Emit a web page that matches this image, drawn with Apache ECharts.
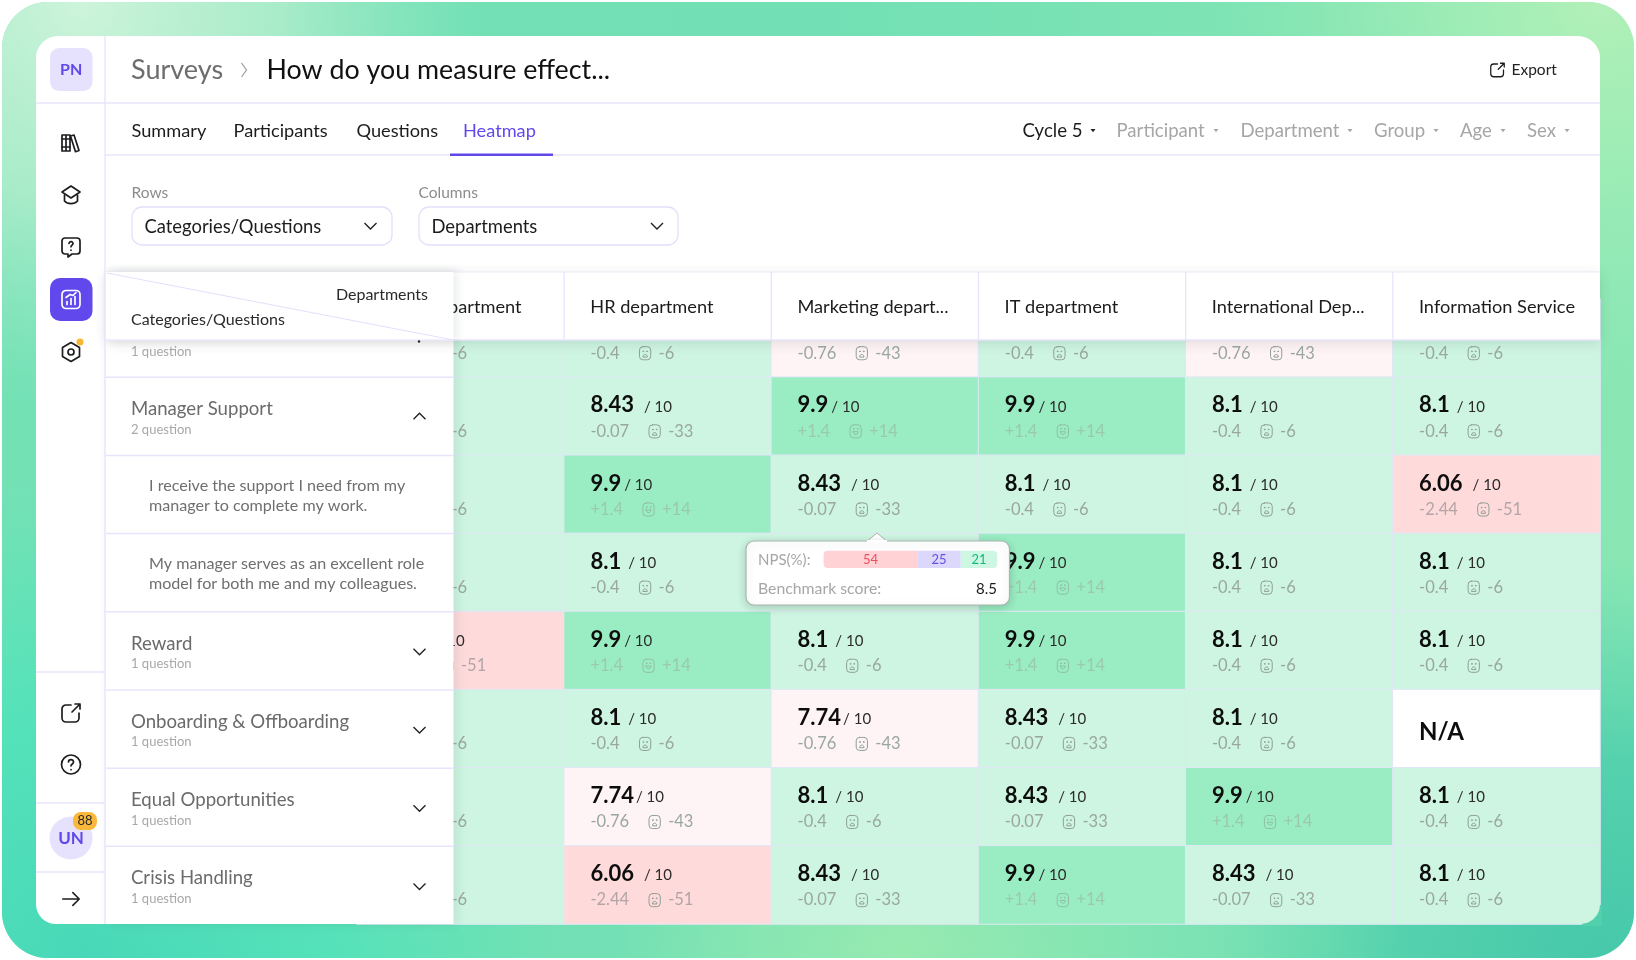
<!DOCTYPE html>
<html><head><meta charset="utf-8">
<style>html,body{margin:0;padding:0;background:#fff}#c{width:1636px;height:960px}</style>
<script src="https://cdn.jsdelivr.net/npm/echarts@6/dist/echarts.min.js"></script></head>
<body><div id="c"></div>
<script>
const FONT = 'Lato';
const columns = ['Sales department','HR department','Marketing depart...','IT department','International Dep...','Information Service'];
const rowTitles = ['','Manager Support','I receive the support I need from my\nmanager to complete my work.','My manager serves as an excellent role\nmodel for both me and my colleagues.','Reward','Onboarding & Offboarding','Equal Opportunities','Crisis Handling'];
const rowSubs = ['1 question','2 question','','','1 question','1 question','1 question','1 question'];
const rowChevrons = ['dot','up','','','down','down','down','down'];
// score per row, per column; null = N/A
const scores0 = [8.1,8.1,7.74,8.1,7.74,8.1];
const scores1 = [8.1,8.43,9.9,9.9,8.1,8.1];
const scores2 = [8.1,9.9,8.43,8.1,8.1,6.06];
const scores3 = [8.1,8.1,8.1,9.9,8.1,8.1];
const scores4 = [6.06,9.9,8.1,9.9,8.1,8.1];
const scores5 = [8.1,8.1,7.74,8.43,8.1,null];
const scores6 = [8.1,7.74,8.1,8.43,9.9,8.1];
const scores7 = [8.1,6.06,8.43,9.9,8.43,8.1];
const scoreRows = [scores0,scores1,scores2,scores3,scores4,scores5,scores6,scores7];
const deltaLabels = {9.9:'+1.4',8.43:'-0.07',8.1:'-0.4',7.74:'-0.76',6.06:'-2.44'};
const npsLabels = {9.9:'+14',8.43:'-33',8.1:'-6',7.74:'-43',6.06:'-51'};
const npsNames = ['Detractors','Passives','Promoters'];
const npsValues = [54,25,21];
const npsColors = ['#ffd2d6','#dcd8fb','#cdf6e3'];
const npsText = ['#e9505f','#6350e6','#12b981'];
const benchmark = '8.5';

const G = {l:357,t:299,w:1243,h:625,panelL:105.5,panelR:453.5,headT:272,headB:340,rowH:78.19};
const LINE = '#e7e4fb';
const svg = (inner,vb) => 'data:image/svg+xml;charset=utf-8,'+encodeURIComponent(
  `<svg xmlns="http://www.w3.org/2000/svg" viewBox="0 0 ${vb||24} ${vb||24}" fill="none" stroke-linecap="round" stroke-linejoin="round">${inner}</svg>`);
const faceSad = svg(`<g stroke="#8f9f97" stroke-width="1.6"><rect x="3" y="1.5" width="18" height="21" rx="5.5"/><circle cx="9" cy="9" r=".6"/><circle cx="15" cy="9" r=".6"/><path d="M8.5 17.5c0-5 7-5 7 0z"/></g>`);
const faceHappy = svg(`<g stroke="#8fbfa4" stroke-width="1.6"><rect x="3" y="1.5" width="18" height="21" rx="5.5"/><circle cx="9" cy="8" r=".6"/><circle cx="15" cy="8" r=".6"/><path d="M8 12.5h8c0 6-8 6-8 0z"/></g>`);
const K = 'stroke="#1d1d1f" stroke-width="1.7"';
const icons = {
 books:`<g ${K}><path d="M3 4h4v16H3zM7 4h4v16H7zM11.5 5l3.5-1 5 15.5-3.5 1.2z"/><path d="M3 8h8M3 16h8"/></g>`,
 grad:`<g ${K}><path d="M12 3l9 6-9 6-9-6z"/><path d="M5.5 12v6c3 3.5 10 3.5 13 0v-6"/></g>`,
 bubble:`<g ${K}><path d="M6 3h12a3 3 0 013 3v10a3 3 0 01-3 3h-5l-4 3v-3H6a3 3 0 01-3-3V6a3 3 0 013-3z"/><path d="M10 8.5a2 2 0 114 .2c0 1.3-2 1.5-2 3"/><path d="M12 15v.2"/></g>`,
 chart:`<g stroke="#fff" stroke-width="1.7"><rect x="3" y="3" width="18" height="18" rx="4"/><path d="M8 17v-3M12 17v-6M16 17V9"/><path d="M7 10l4-3 3 1 3-3"/></g>`,
 gear:`<g ${K}><path d="M12 2.5l8.5 5v9l-8.5 5-8.5-5v-9z"/><circle cx="12" cy="12" r="3"/></g>`,
 ext:`<g ${K}><path d="M12 4H7a4 4 0 00-4 4v9a4 4 0 004 4h9a4 4 0 004-4v-5"/><path d="M13 11l8-8M16 3h5v5"/></g>`,
 help:`<g ${K}><circle cx="12" cy="12" r="9.5"/><path d="M9.5 9.5a2.5 2.5 0 115 .2c0 1.7-2.5 1.8-2.5 3.6"/><path d="M12 17v.2"/></g>`,
 arrow:`<g ${K}><path d="M3 12h18M14 5l7 7-7 7"/></g>`
};
const els = [];
const T = (x,y,text,size,fill,o={}) => els.push({type:'text',x,y,z:o.z||110,silent:true,style:{text,fontSize:size,fontFamily:FONT,fontWeight:o.w||400,fill,align:o.a||'left',verticalAlign:'middle'}});
const R = (x,y,w,h,fill,o={}) => els.push({type:'rect',z:o.z||100,silent:true,shape:{x,y,width:w,height:h,r:o.r||0},style:Object.assign({fill,stroke:o.s||null,lineWidth:o.lw||1},o.style||{})});
const L = (x1,y1,x2,y2,o={}) => els.push({type:'line',z:o.z||101,silent:true,shape:{x1,y1,x2,y2},style:{stroke:o.c||LINE,lineWidth:o.lw||1.3}});
const P = (pts,o={}) => els.push({type:'polyline',z:o.z||110,silent:true,shape:{points:pts},style:{stroke:o.c||'#222',lineWidth:o.lw||1.4,fill:null}});
const I = (cx,cy,s,inner,z) => els.push({type:'image',z:z||110,silent:true,style:{image:svg(inner),x:cx-s/2,y:cy-s/2,width:s,height:s}});
const CH = (cx,cy,up,o={}) => P(up?[[cx-6,cy+3],[cx,cy-3],[cx+6,cy+3]]:[[cx-6,cy-3],[cx,cy+3],[cx+6,cy-3]],o);
const TRI = (cx,cy,c) => els.push({type:'polygon',z:110,silent:true,shape:{points:[[cx-2.5,cy-1.5],[cx+2.5,cy-1.5],[cx,cy+1.8]]},style:{fill:c}});

// outer gradient frame
const grad = (stops,type,extra) => Object.assign({type,colorStops:stops.map((c,i)=>({offset:i/(stops.length-1),color:c}))},extra);
const frame = (fill,z) => els.push({type:'rect',z,silent:true,shape:{x:2,y:2,width:1632,height:956,r:46},style:{fill}});
frame(grad(['#74e1b5','#72e0b4','#8ae7b4'],'linear',{x:0,y:0,x2:1,y2:0}),-10);
frame(grad(['rgba(150,234,176,1)','rgba(150,234,176,.6)','rgba(150,234,176,0)'],'radial',{x:.55,y:1,r:.3}),-9.5);
frame(grad(['rgba(205,244,218,1)','rgba(190,240,210,.7)','rgba(160,235,200,0)'],'radial',{x:.05,y:0,r:.42}),-9);
frame(grad(['rgba(178,240,184,1)','rgba(165,238,182,.6)','rgba(150,235,180,0)'],'radial',{x:.98,y:0,r:.4}),-8);
frame(grad(['rgba(72,216,184,1)','rgba(78,226,186,.85)','rgba(80,228,186,0)'],'radial',{x:.05,y:1,r:.5}),-7);
frame(grad(['rgba(70,200,170,1)','rgba(76,206,172,.85)','rgba(80,210,172,0)'],'radial',{x:.98,y:1,r:.42}),-6);
// card
els.push({type:'rect',z:-1,silent:true,shape:{x:36,y:36,width:1564,height:888,r:[22,22,20,20]},style:{fill:'#fff'}});
// left panel & corner
R(G.panelL,G.headT,G.panelR-G.panelL,924-G.headT,'#fff',{z:90,style:{shadowBlur:10,shadowColor:'rgba(40,60,60,.10)',shadowOffsetX:3}});
for(let i=1;i<8;i++) L(G.panelL,G.t+i*G.rowH,G.panelR,G.t+i*G.rowH,{z:91,lw:1.5});
// column header band
R(G.panelL,G.headT,1600-G.panelL,G.headB-G.headT,'#fff',{z:100,style:{shadowBlur:12,shadowColor:'rgba(40,60,60,.14)',shadowOffsetY:3}});
L(G.panelL,G.headT,1600,G.headT,{z:101,c:'#f0eff8'});
L(G.panelL,G.headB,1600,G.headB,{z:101});
for(let i=1;i<6;i++) L(G.l+i*G.w/6,G.headT,G.l+i*G.w/6,G.headB,{z:101});
// frozen corner
R(G.panelL,G.headT,G.panelR-G.panelL,G.headB-G.headT+.5,'#fff',{z:130,style:{shadowBlur:8,shadowColor:'rgba(40,60,60,.10)',shadowOffsetX:3}});
L(107,273,453.5,340,{z:131,lw:1.2,c:'#e3e0fa'});
L(G.panelL,G.headB,G.panelR,G.headB,{z:131,lw:1.2,c:'#e3e0fa'});
T(428,295,'Departments',16,'#2a2a2a',{z:132,a:'right'});
T(131,319.5,'Categories/Questions',16,'#2a2a2a',{z:132});
rowChevrons.forEach((c,i)=>{const cy=G.t+(i+.5)*G.rowH+(i?0:3.7);
  if(c==='up')CH(419.5,cy,true,{z:96}); if(c==='down')CH(419.5,cy+1,false,{z:96});
  if(c==='dot')els.push({type:'circle',z:133,silent:true,shape:{cx:419,cy:341.5,r:1.2},style:{fill:'#222'}});});
// shell lines
L(105,36,105,924,{z:140}); L(36,103,1600,103,{z:5}); L(105,155,1600,155,{z:5});
L(36,672,105,672,{z:5}); L(36,803,105,803,{z:5}); L(36,872,105,872,{z:5});
// sidebar
R(50,48,42.5,43,'#e6e2fd',{z:6,r:9}); T(71.2,69.5,'PN',16,'#5f49e8',{z:7,a:'center',w:700});
I(71,143,24,icons.books); I(71,195,24,icons.grad); I(71,247,24,icons.bubble);
R(50,278,42.5,43,'#6048ec',{z:6,r:10}); I(71,299.5,24,icons.chart);
I(71,352,24,icons.gear); els.push({type:'circle',z:111,silent:true,shape:{cx:80,cy:342,r:3.5},style:{fill:'#f7b733'}});
I(71,713,24,icons.ext); I(71,764.5,24,icons.help);
els.push({type:'circle',z:6,silent:true,shape:{cx:71,cy:838,r:21.5},style:{fill:'#e6e2fd'}});
T(71,839,'UN',17,'#5f49e8',{z:7,a:'center',w:700});
R(73,812,24,18,'#f9b83a',{z:8,r:8}); T(85,821,'88',13,'#2a2a2a',{z:9,a:'center'});
I(71,899,22,icons.arrow);
// top bar
T(131,70,'Surveys',27,'#6d6d6d',{z:6});
P([[241.5,63],[246.5,70],[241.5,77]],{z:6,c:'#9a9a9a',lw:1.2});
T(266.5,70,'How do you measure effect...',26.8,'#111',{z:6});
I(1497.5,70,18,icons.ext); T(1511.5,70,'Export',15.5,'#222',{z:6});
[['Summary',131.5,'#1c1c1c'],['Participants',233.5,'#1c1c1c'],['Questions',356.5,'#1c1c1c'],['Heatmap',463,'#6048ec']].forEach(a=>T(a[1],131,a[0],18.2,a[2],{z:6}));
R(450,153.5,103,2.5,'#5f49e8',{z:7});
[['Cycle 5',1022.5,1093,'#1c1c1c'],['Participant',1116.5,1216,'#a6a6a6'],['Department',1240.5,1350,'#a6a6a6'],['Group',1374,1436,'#a6a6a6'],['Age',1460,1503,'#a6a6a6'],['Sex',1527,1567,'#a6a6a6']].forEach(a=>{T(a[1],131,a[0],18.6,a[3],{z:6});TRI(a[2],130.5,a[3]==='#1c1c1c'?'#222':'#a6a6a6');});
// selectors
T(131.5,193,'Rows',15.5,'#8c8c8c',{z:6}); T(418.5,193,'Columns',15.5,'#8c8c8c',{z:6});
R(132,207,260,38,'#fff',{z:5,r:10,s:'#e3e0fa',lw:1.3}); R(419,207,259,38,'#fff',{z:5,r:10,s:'#e3e0fa',lw:1.3});
T(144.5,227,'Categories/Questions',18.4,'#1c1c1c',{z:6}); T(431.5,227,'Departments',18.4,'#1c1c1c',{z:6});
CH(370.5,226,false,{z:6}); CH(657,226,false,{z:6});
// tooltip box
els.push({type:'polygon',z:141,silent:true,shape:{points:[[866,542],[877,533],[888,542]]},style:{fill:'#fff',stroke:'#aab5b0',lineWidth:1}});
R(746,541,263.5,64,'#fff',{z:142,r:8,s:'#aab5b0',lw:1.2,style:{shadowBlur:8,shadowColor:'rgba(30,60,50,.22)',shadowOffsetY:2}});
els.push({type:'rect',z:143,silent:true,shape:{x:867,y:540,width:20,height:3},style:{fill:'#fff'}});
T(758,560,'NPS(%):',15,'#a6a6a6',{z:144}); T(758,589,'Benchmark score:',15.8,'#a6a6a6',{z:144}); T(997,589,benchmark,15,'#1c1c1c',{z:144,a:'right'});
// card's rounded bottom-right corner over the cells
els.push({type:'polygon',z:160,silent:true,shape:{points:[[1600,905],[1599.3,910],[1597,915],[1593,919.5],[1588,922.6],[1582,924],[1582,926],[1602,926],[1602,905]]},style:{fill:'#52d0ac'}});

const rich = {
 v:{fontSize:22,fontWeight:700,fontFamily:FONT,color:'#0d0d0d',lineHeight:26},
 o9:{fontSize:15,fontFamily:FONT,color:'#2b2b2b',lineHeight:26,padding:[3,0,0,3]},
 o7:{fontSize:15,fontFamily:FONT,color:'#2b2b2b',lineHeight:26,padding:[3,0,0,2]},
 o8:{fontSize:15,fontFamily:FONT,color:'#2b2b2b',lineHeight:26,padding:[3,0,0,7]},
 o:{fontSize:15,fontFamily:FONT,color:'#2b2b2b',lineHeight:26,padding:[3,0,0,10]},
 d:{fontSize:16.5,fontFamily:FONT,color:'#9aa7a0',lineHeight:26},
 e:{fontSize:16.5,fontFamily:FONT,color:'#9ac9ad',lineHeight:26},
 r:{fontSize:16.5,fontFamily:FONT,color:'#b3a5a6',lineHeight:26},
 sad:{width:15,height:15,backgroundColor:{image:faceSad}},
 hap:{width:15,height:15,backgroundColor:{image:faceHappy}},
 gap:{width:18,height:10},
 gap2:{width:6,height:10},
 na:{fontSize:24,fontWeight:700,fontFamily:FONT,color:'#0d0d0d',lineHeight:54}
};
const cellData=[];
scoreRows.forEach((row,r)=>row.forEach((s,c)=>cellData.push([c,r,s==null?0:s])));
const fmt = p => {
  const s=p.value[2]; if(!s) return '{na|N/A}';
  const k = s>=9?'e':s<7.8?'r':'d', f = s>=9?'hap':'sad';
  const o = s>=9?'o9':s===7.74?'o7':s===8.1?'o8':'o';
  return `{v|${s}}{${o}|/ 10}\n{${k==='r'&&s>7?'d':k}|${deltaLabels[s]}}{gap|}{${f}|}{gap2|}{${k==='r'&&s>7?'d':k}|${npsLabels[s]}}`;
};
const yLab = (v,i)=>{
  if(rowSubs[i]) return (v?`{t|${v}}`:'{t| }')+`\n{s|${rowSubs[i]}}`;
  return v.split('\n').map(x=>`{q|${x}}`).join('\n')+'\n{b| }';
};
const chart = echarts.init(document.getElementById('c'),null,{renderer:'canvas'});
chart.setOption({
 animation:false,backgroundColor:'transparent',
 grid:[{left:G.l,top:G.t,width:G.w,height:G.h},{left:823.6,top:550.7,width:173.6,height:17.4}],
 xAxis:[{type:'category',data:columns,position:'top',gridIndex:0,z:120,axisLine:{show:false},axisTick:{show:false},splitLine:{show:false},
   axisLabel:{inside:true,interval:0,margin:8.5,verticalAlign:'middle',formatter:'{a|{value}}',rich:{a:{width:155,align:'left',fontSize:18.2,fontFamily:FONT,color:'#1c1c1c',lineHeight:20}}}},
  {type:'value',gridIndex:1,min:0,max:100,show:false}],
 yAxis:[{type:'category',data:rowTitles,inverse:true,gridIndex:0,z:95,axisLine:{show:false},axisTick:{show:false},splitLine:{show:false},
   axisLabel:{interval:0,margin:-94,align:'right',padding:[6,0,0,0],formatter:yLab,
    rich:{t:{width:320,align:'left',fontSize:18.6,fontFamily:FONT,color:'#6b6b6b',lineHeight:21},
          s:{width:320,align:'left',fontSize:13,fontFamily:FONT,color:'#a8a8a8',lineHeight:20},
          q:{width:302,align:'left',fontSize:16.1,fontFamily:FONT,color:'#6f6f6f',lineHeight:20},
          b:{fontSize:3,lineHeight:3}}}},
  {type:'category',gridIndex:1,data:['NPS'],show:false}],
 visualMap:[{show:false,type:'piecewise',seriesIndex:0,dimension:2,pieces:[
   {min:9,color:'#9aedc3'},{min:8,max:9,color:'#cdf5e1'},{min:7,max:8,color:'#fff4f5'},{min:1,max:7,color:'#ffdadb'},{max:1,color:'#ffffff'}]}],
 series:[
  {type:'heatmap',xAxisIndex:0,yAxisIndex:0,data:cellData,z:2,itemStyle:{borderColor:'#e0e7f6',borderWidth:1},emphasis:{disabled:true},
   label:{show:true,position:[27,16],formatter:fmt,rich}},
  ...npsValues.map((v,i)=>({type:'bar',name:npsNames[i],xAxisIndex:1,yAxisIndex:1,stack:'nps',z:150,barWidth:'100%',data:[v],
    itemStyle:{color:npsColors[i],borderRadius:i==0?[4,0,0,4]:i==2?[0,4,4,0]:0},
    label:{show:true,position:'inside',formatter:'{c}',fontSize:13,fontFamily:FONT,color:npsText[i]}}))
 ],
 graphic:{elements:els}
});
</script></body></html>
